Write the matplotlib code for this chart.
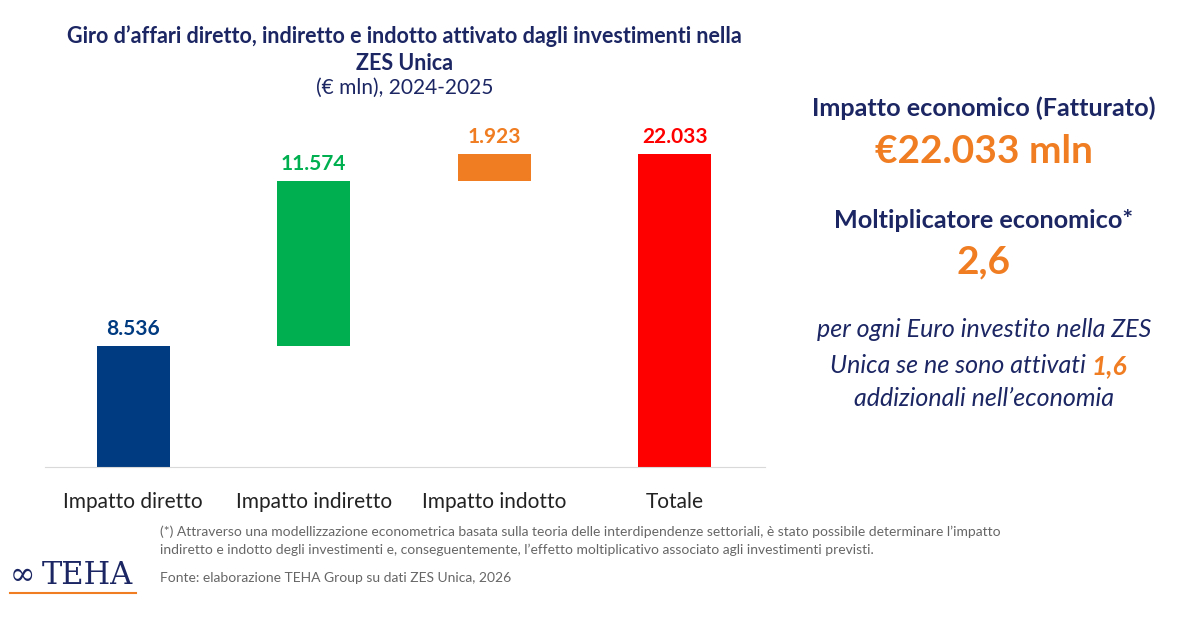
import matplotlib.pyplot as plt

categories = ['Impatto diretto', 'Impatto indiretto', 'Impatto indotto', 'Totale']
values = [8536, 11574, 1923, 22033]
labels = ['8.536', '11.574', '1.923', '22.033']
colors = ['#003A80', '#00B050', '#F07D22', '#FF0000']
navy = '#1B2663'
orange = '#F07D22'

plt.rcParams['font.family'] = ['Lato', 'DejaVu Sans']

fig = plt.figure(figsize=(12, 6.2), dpi=100)
ax = fig.add_axes([0.0375, 0.2468, 0.6, 0.55])

bottoms = [0, values[0], values[0] + values[1], 0]
ax.bar(range(4), values, bottom=bottoms, width=0.405, color=colors)
for i, (v, b, lab) in enumerate(zip(values, bottoms, labels)):
    ax.text(i, b + v + 500, lab, ha='center', va='bottom', fontsize=15,
            fontweight='bold', color=colors[i])

ax.set_xlim(-0.489, 3.5)
ax.set_ylim(0, 24000)
for s in ['top', 'right', 'left']:
    ax.spines[s].set_visible(False)
ax.spines['bottom'].set_color('#D9D9D9')
ax.set_yticks([])
ax.set_xticks(range(4))
ax.set_xticklabels(categories, fontsize=15, color='#222222')
ax.tick_params(axis='x', length=0, pad=18)

fig.text(0.337, 0.96, "Giro d\u2019affari diretto, indiretto e indotto attivato dagli investimenti nella\nZES Unica",
         ha='center', va='top', fontsize=15.5, fontweight='bold', color=navy, linespacing=1.4)
fig.text(0.337, 0.875, "(\u20ac mln), 2024-2025", ha='center', va='top', fontsize=15, color=navy)

fig.text(0.82, 0.825, "Impatto economico (Fatturato)", ha='center', va='center',
         fontsize=18.2, fontweight='bold', color=navy)
fig.text(0.82, 0.755, "\u20ac22.033 mln", ha='center', va='center',
         fontsize=28, fontweight='bold', color=orange)
fig.text(0.82, 0.645, "Moltiplicatore economico*", ha='center', va='center',
         fontsize=18.2, fontweight='bold', color=navy)
fig.text(0.82, 0.578, "2,6", ha='center', va='center',
         fontsize=28, fontweight='bold', color=orange)
fig.text(0.82, 0.468, "per ogni Euro investito nella ZES", ha='center', va='center',
         fontsize=18, style='italic', color=navy)
fig.text(0.91, 0.410, "Unica se ne sono attivati ", ha='right', va='center',
         fontsize=18, style='italic', color=navy)
fig.text(0.91, 0.410, "1,6", ha='left', va='center',
         fontsize=19, style='italic', fontweight='bold', color=orange)
fig.text(0.82, 0.358, "addizionali nell\u2019economia", ha='center', va='center',
         fontsize=18, style='italic', color=navy)

fig.text(0.133, 0.152, "(*) Attraverso una modellizzazione econometrica basata sulla teoria delle interdipendenze settoriali, \u00e8 stato possibile determinare l\u2019impatto\n"
         "indiretto e indotto degli investimenti e, conseguentemente, l\u2019effetto moltiplicativo associato agli investimenti previsti.",
         ha='left', va='top', fontsize=10, color='#666666', linespacing=1.5)
fig.text(0.133, 0.068, "Fonte: elaborazione TEHA Group su dati ZES Unica, 2026",
         ha='left', va='center', fontsize=10, color='#666666')

fig.text(0.008, 0.072, "\u221e", ha='left', va='center', fontsize=22, color=navy, family='DejaVu Serif')
fig.text(0.035, 0.072, "TEHA", ha='left', va='center', fontsize=22, color=navy, family='DejaVu Serif')
fig.add_artist(plt.Line2D([0.008, 0.113], [0.043, 0.043], color=orange, lw=1.5))

fig.savefig('out.png', dpi=100, facecolor='white')
